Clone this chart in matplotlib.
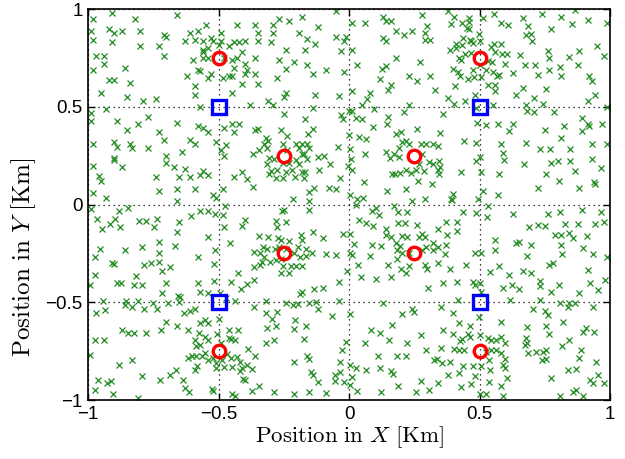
import numpy as np
import matplotlib
matplotlib.use("Agg")
import matplotlib.pyplot as plt

# base stations (red circles) and access points (blue squares)
bs_x = [-0.5, 0.5, -0.25, 0.25, -0.25, 0.25, -0.5, 0.5]
bs_y = [0.75, 0.75, 0.25, 0.25, -0.25, -0.25, -0.75, -0.75]
ap_x = [-0.5, 0.5, -0.5, 0.5]
ap_y = [0.5, 0.5, -0.5, -0.5]

# user positions (green crosses)
users_top_left = [
    (-0.91, 0.98), (-0.66, 0.97), (-0.98, 0.95), (-0.82, 0.95), (-0.55, 0.92), (-0.43, 0.92),
    (-0.36, 0.92), (-0.92, 0.90), (-0.58, 0.89), (-0.99, 0.89), (-0.90, 0.88), (-0.87, 0.89),
    (-0.80, 0.89), (-0.61, 0.88), (-0.49, 0.88), (-0.35, 0.88), (-0.71, 0.87), (-0.70, 0.86),
    (-0.98, 0.84), (-0.91, 0.83), (-0.73, 0.81), (-0.80, 0.81), (-0.63, 0.835), (-0.59, 0.84),
    (-0.56, 0.835), (-0.53, 0.85), (-0.52, 0.835), (-0.49, 0.835), (-0.44, 0.83), (-0.42, 0.83),
    (-0.40, 0.835), (-0.35, 0.835), (-0.56, 0.79), (-0.54, 0.80), (-0.50, 0.815), (-0.46, 0.81),
    (-0.41, 0.78), (-0.97, 0.76), (-0.94, 0.76), (-0.71, 0.76), (-0.60, 0.74), (-0.56, 0.75),
    (-0.54, 0.75), (-0.56, 0.78), (-0.48, 0.75), (-0.45, 0.74), (-0.43, 0.75), (-0.40, 0.72),
    (-0.36, 0.75), (-0.98, 0.69), (-0.94, 0.72), (-0.86, 0.70), (-0.58, 0.69), (-0.57, 0.685),
    (-0.44, 0.70), (-0.39, 0.69), (-0.62, 0.66), (-0.54, 0.65), (-0.53, 0.67), (-0.485, 0.65),
    (-0.46, 0.66), (-0.45, 0.66), (-0.40, 0.67), (-0.36, 0.67), (-0.92, 0.64), (-0.90, 0.64),
    (-0.84, 0.62), (-0.59, 0.605), (-0.41, 0.615), (-0.35, 0.615), (-0.95, 0.57), (-0.85, 0.55),
    (-0.74, 0.54), (-0.79, 0.53), (-0.59, 0.56), (-0.45, 0.57), (-0.93, 0.49), (-0.57, 0.50),
    (-0.38, 0.51), (-0.99, 0.47), (-0.99, 0.43), (-0.77, 0.45), (-0.89, 0.43), (-0.66, 0.42),
    (-0.81, 0.41), (-0.58, 0.40), (-0.56, 0.39), (-0.54, 0.37), (-0.48, 0.39), (-0.44, 0.37),
    (-0.42, 0.41), (-0.45, 0.41), (-0.36, 0.38), (-0.35, 0.385), (-0.85, 0.38), (-0.73, 0.37),
    (-0.98, 0.31), (-0.90, 0.32), (-0.89, 0.295), (-0.84, 0.31), (-0.83, 0.29), (-0.77, 0.29),
    (-0.71, 0.33), (-0.61, 0.33), (-0.59, 0.31), (-0.51, 0.32), (-0.47, 0.305), (-0.49, 0.28),
    (-0.345, 0.28), (-0.70, 0.25), (-0.64, 0.27), (-0.48, 0.25), (-0.37, 0.26), (-0.98, 0.20),
    (-0.90, 0.24), (-0.90, 0.23), (-0.70, 0.215), (-0.87, 0.19), (-0.63, 0.18), (-0.67, 0.19),
    (-0.96, 0.146), (-0.95, 0.12), (-0.74, 0.14), (-0.65, 0.14), (-0.61, 0.14), (-0.56, 0.17),
    (-0.57, 0.15), (-0.54, 0.15), (-0.44, 0.14), (-0.41, 0.165), (-0.39, 0.13), (-0.37, 0.09),
    (-0.73, 0.07), (-0.66, 0.08), (-0.59, 0.08), (-0.485, 0.08), (-0.98, 0.06), (-0.93, 0.035),
    (-0.66, 0.02), (-0.52, 0.05), (-0.51, 0.035),
]

users_top_mid = [
    (-0.05, 0.99), (-0.27, 0.95), (-0.29, 0.92), (-0.23, 0.94), (-0.18, 0.96), (0.01, 0.93),
    (0.06, 0.93), (0.13, 0.96), (0.14, 0.94), (0.16, 0.94), (0.28, 0.97), (0.30, 0.915),
    (-0.29, 0.88), (-0.19, 0.88), (-0.12, 0.91), (-0.05, 0.86), (-0.02, 0.835), (-0.01, 0.86),
    (0.18, 0.89), (0.21, 0.87), (0.24, 0.89), (0.13, 0.85), (0.14, 0.835), (0.29, 0.84),
    (0.31, 0.84), (0.29, 0.88), (-0.30, 0.83), (-0.16, 0.845), (-0.13, 0.82), (-0.24, 0.79),
    (-0.17, 0.79), (-0.03, 0.785), (0.01, 0.79), (0.18, 0.75), (-0.27, 0.74), (-0.21, 0.73),
    (-0.16, 0.715), (-0.24, 0.695), (-0.14, 0.67), (-0.09, 0.69), (-0.02, 0.68), (0.03, 0.715),
    (0.125, 0.695), (0.14, 0.71), (0.27, 0.73), (0.31, 0.66), (0.23, 0.66), (0.26, 0.63),
    (-0.275, 0.65), (0.12, 0.645), (0.16, 0.614), (0.15, 0.587), (0.08, 0.57), (0.07, 0.54),
    (0.05, 0.51), (-0.24, 0.57), (-0.25, 0.55), (-0.31, 0.53), (-0.13, 0.56), (-0.04, 0.555),
    (0.01, 0.58), (0.33, 0.585), (-0.29, 0.51), (-0.14, 0.495), (0.00, 0.48), (0.095, 0.49),
    (0.23, 0.51), (-0.25, 0.465), (-0.17, 0.44), (-0.14, 0.386), (-0.156, 0.36), (-0.03, 0.46),
    (-0.023, 0.44), (0.028, 0.444), (0.05, 0.44), (0.01, 0.478), (0.15, 0.447), (0.145, 0.41),
    (0.21, 0.475), (0.09, 0.396), (0.26, 0.385), (0.00, 0.355), (0.038, 0.347), (0.064, 0.337),
    (0.18, 0.36), (0.20, 0.37), (0.22, 0.328), (-0.32, 0.34), (-0.326, 0.308), (-0.31, 0.325),
    (-0.313, 0.29), (-0.26, 0.38), (-0.237, 0.352), (-0.255, 0.308), (-0.236, 0.277),
    (-0.204, 0.308), (-0.19, 0.29), (-0.179, 0.308), (-0.163, 0.308), (-0.153, 0.29),
    (-0.172, 0.257), (-0.306, 0.24), (-0.287, 0.232), (-0.313, 0.206), (-0.255, 0.213),
    (-0.23, 0.215), (-0.204, 0.226), (-0.179, 0.257), (-0.16, 0.232), (-0.19, 0.206),
    (-0.30, 0.172), (-0.276, 0.175), (-0.243, 0.169), (-0.217, 0.175), (-0.18, 0.165),
    (-0.169, 0.165), (-0.306, 0.155), (-0.28, 0.138), (-0.253, 0.138), (-0.207, 0.141),
    (-0.172, 0.135), (-0.118, 0.243), (-0.096, 0.248), (-0.115, 0.175), (-0.074, 0.209),
    (-0.041, 0.294), (-0.036, 0.138), (0.005, 0.282), (0.007, 0.232), (-0.003, 0.20),
    (0.012, 0.175), (0.06, 0.257), (0.14, 0.27), (0.155, 0.237), (0.172, 0.257), (0.19, 0.291),
    (0.19, 0.243), (0.204, 0.318), (0.23, 0.308), (0.274, 0.308), (0.293, 0.308), (0.321, 0.308),
    (0.278, 0.257), (0.306, 0.22), (0.268, 0.206), (0.321, 0.206), (0.163, 0.158), (0.176, 0.158),
    (0.194, 0.164), (0.219, 0.175), (0.236, 0.164), (0.255, 0.175), (0.287, 0.172), (0.319, 0.104),
    (0.265, 0.121), (0.217, 0.078), (0.146, 0.07), (0.057, 0.118), (-0.134, 0.084), (-0.153, 0.065),
    (-0.077, 0.084), (-0.049, 0.082), (-0.215, 0.027), (-0.153, 0.019), (0.004, 0.05),
    (0.032, 0.027), (0.053, 0.033), (0.242, 0.019), (0.29, 0.027),
]

users_top_right = [
    (0.38, 0.99), (0.404, 0.962), (0.46, 0.957), (0.513, 0.957), (0.556, 0.976), (0.668, 0.957),
    (0.74, 0.976), (0.812, 0.962), (0.864, 0.996), (0.391, 0.923), (0.434, 0.928), (0.459, 0.934),
    (0.583, 0.928), (0.608, 0.917), (0.685, 0.915), (0.855, 0.925), (0.915, 0.946), (0.987, 0.928),
    (0.451, 0.903), (0.459, 0.90), (0.497, 0.872), (0.678, 0.866), (0.698, 0.872), (0.701, 0.835),
    (0.774, 0.90), (0.436, 0.855), (0.462, 0.843), (0.468, 0.838), (0.41, 0.821), (0.433, 0.815),
    (0.474, 0.828), (0.50, 0.835), (0.557, 0.821), (0.583, 0.821), (0.41, 0.801), (0.385, 0.789),
    (0.446, 0.77), (0.423, 0.75), (0.43, 0.741), (0.468, 0.774), (0.545, 0.804), (0.561, 0.781),
    (0.585, 0.77), (0.605, 0.77), (0.656, 0.767), (0.761, 0.784), (0.768, 0.75), (0.88, 0.784),
    (0.949, 0.81), (0.844, 0.753), (0.976, 0.762), (0.532, 0.736), (0.548, 0.73), (0.50, 0.713),
    (0.596, 0.719), (0.676, 0.713), (0.714, 0.713), (0.398, 0.694), (0.417, 0.679), (0.474, 0.69),
    (0.523, 0.687), (0.553, 0.679), (0.576, 0.665), (0.566, 0.66), (0.627, 0.673), (0.768, 0.687),
    (0.809, 0.702), (0.812, 0.656), (0.876, 0.713), (0.723, 0.665), (0.426, 0.656), (0.455, 0.641),
    (0.478, 0.653), (0.506, 0.653), (0.921, 0.656), (0.931, 0.634), (0.532, 0.614), (0.561, 0.614),
    (0.407, 0.605), (0.668, 0.597), (0.755, 0.592), (0.561, 0.58), (0.481, 0.56), (0.638, 0.56),
    (0.944, 0.563), (0.379, 0.543), (0.404, 0.515), (0.446, 0.532), (0.487, 0.495), (0.553, 0.512),
    (0.678, 0.512), (0.681, 0.478), (0.708, 0.543), (0.707, 0.475), (0.745, 0.515), (0.784, 0.475),
    (0.915, 0.532), (0.987, 0.498), (0.36, 0.464), (0.49, 0.418), (0.523, 0.407), (0.57, 0.413),
    (0.612, 0.379), (0.63, 0.41), (0.749, 0.381), (0.825, 0.401), (0.892, 0.444), (0.915, 0.413),
    (0.921, 0.401), (0.968, 0.41), (0.892, 0.379), (0.349, 0.368), (0.439, 0.325), (0.487, 0.317),
    (0.583, 0.308), (0.678, 0.317), (0.812, 0.342), (0.931, 0.308), (0.988, 0.311), (0.34, 0.30),
    (0.589, 0.262), (0.592, 0.228), (0.73, 0.282), (0.77, 0.282), (0.848, 0.286), (0.487, 0.223),
    (0.50, 0.245), (0.672, 0.206), (0.774, 0.214), (0.80, 0.223), (0.847, 0.223), (0.931, 0.231),
    (0.344, 0.223), (0.349, 0.192), (0.34, 0.175), (0.344, 0.155), (0.43, 0.169), (0.506, 0.167),
    (0.576, 0.155), (0.755, 0.158), (0.864, 0.172), (0.966, 0.189), (0.804, 0.121), (0.94, 0.118),
    (0.944, 0.104), (0.883, 0.087), (0.723, 0.084), (0.513, 0.07), (0.57, 0.05), (0.40, 0.053),
    (0.391, 0.027), (0.395, 0.022), (0.493, 0.027),
]

users_bottom_left = [
    (-0.99, -0.02), (-0.966, -0.072), (-0.896, -0.072), (-0.881, -0.032), (-0.847, -0.015),
    (-0.804, -0.083), (-0.779, -0.083), (-0.736, -0.072), (-0.653, -0.089), (-0.605, -0.06),
    (-0.57, -0.032), (-0.541, -0.032), (-0.513, -0.046), (-0.485, -0.055), (-0.475, -0.009),
    (-0.947, -0.123), (-0.915, -0.097), (-0.879, -0.114), (-0.747, -0.114), (-0.66, -0.14),
    (-0.481, -0.114), (-0.539, -0.165), (-0.40, -0.077), (-0.411, -0.111), (-0.347, -0.162),
    (-0.456, -0.196), (-0.73, -0.19), (-0.794, -0.216), (-0.666, -0.213), (-0.953, -0.225),
    (-0.858, -0.233), (-0.975, -0.267), (-0.728, -0.25), (-0.58, -0.267), (-0.513, -0.233),
    (-0.363, -0.242), (-0.341, -0.25), (-0.909, -0.298), (-0.902, -0.304), (-0.784, -0.31),
    (-0.758, -0.301), (-0.728, -0.293), (-0.685, -0.321), (-0.715, -0.338), (-0.516, -0.304),
    (-0.334, -0.293), (-0.341, -0.31), (-0.363, -0.318), (-0.975, -0.361), (-0.817, -0.366),
    (-0.424, -0.352), (-0.89, -0.403), (-0.873, -0.40), (-0.826, -0.412), (-0.794, -0.412),
    (-0.702, -0.403), (-0.58, -0.40), (-0.516, -0.389), (-0.452, -0.395), (-0.392, -0.406),
    (-0.363, -0.386), (-0.992, -0.412), (-0.414, -0.434), (-0.715, -0.454), (-0.656, -0.468),
    (-0.647, -0.471), (-0.57, -0.446), (-0.539, -0.451), (-0.494, -0.451), (-0.943, -0.491),
    (-0.855, -0.491), (-0.807, -0.491), (-0.753, -0.502), (-0.694, -0.502), (-0.653, -0.498),
    (-0.437, -0.491), (-0.363, -0.522), (-0.472, -0.48), (-0.97, -0.553), (-0.937, -0.539),
    (-0.86, -0.514), (-0.832, -0.522), (-0.784, -0.536), (-0.736, -0.534), (-0.634, -0.553),
    (-0.609, -0.542), (-0.59, -0.536), (-0.498, -0.587), (-0.702, -0.602), (-0.66, -0.621),
    (-0.618, -0.641), (-0.57, -0.607), (-0.554, -0.59), (-0.539, -0.604), (-0.87, -0.644),
    (-0.847, -0.658), (-0.826, -0.658), (-0.779, -0.655), (-0.72, -0.644), (-0.975, -0.692),
    (-0.941, -0.692), (-0.577, -0.658), (-0.551, -0.675), (-0.507, -0.661), (-0.462, -0.641),
    (-0.424, -0.641), (-0.539, -0.695), (-0.592, -0.695), (-0.57, -0.718), (-0.587, -0.726),
    (-0.49, -0.709), (-0.462, -0.684), (-0.452, -0.689), (-0.437, -0.692), (-0.388, -0.74),
    (-0.602, -0.777), (-0.618, -0.786), (-0.587, -0.774), (-0.564, -0.777), (-0.541, -0.794),
    (-0.551, -0.76), (-0.52, -0.786), (-0.511, -0.811), (-0.488, -0.794), (-0.481, -0.831),
    (-0.468, -0.763), (-0.452, -0.786), (-0.43, -0.78), (-0.417, -0.808), (-0.392, -0.82),
    (-0.36, -0.774), (-0.992, -0.769), (-0.881, -0.82), (-0.832, -0.794), (-0.794, -0.876),
    (-0.685, -0.871), (-0.664, -0.845), (-0.592, -0.845), (-0.583, -0.828), (-0.511, -0.837),
    (-0.447, -0.831), (-0.411, -0.837), (-0.417, -0.854), (-0.373, -0.842), (-0.962, -0.90),
    (-0.928, -0.913), (-0.911, -0.905), (-0.724, -0.90), (-0.638, -0.896), (-0.408, -0.893),
    (-0.398, -0.90), (-0.347, -0.93), (-0.972, -0.947), (-0.906, -0.967), (-0.809, -0.99),
    (-0.628, -0.938), (-0.615, -0.96), (-0.526, -0.944), (-0.523, -0.955), (-0.447, -0.967),
    (-0.437, -0.981), (-0.373, -0.955),
]

users_bottom_mid = [
    (-0.249, -0.026), (-0.258, -0.032), (-0.153, -0.026), (0.028, -0.004), (0.089, -0.032),
    (0.102, -0.015), (0.115, -0.055), (0.172, -0.009), (0.189, -0.038), (0.223, -0.038),
    (-0.281, -0.083), (-0.24, -0.089), (-0.275, -0.114), (0.038, -0.08), (0.066, -0.094),
    (0.092, -0.111), (0.189, -0.094), (0.214, -0.094), (0.261, -0.106), (0.143, -0.123),
    (-0.309, -0.165), (-0.271, -0.173), (-0.262, -0.182), (-0.185, -0.157), (-0.179, -0.182),
    (-0.138, -0.14), (-0.10, -0.173), (-0.023, -0.151), (0.002, -0.151), (0.143, -0.157),
    (0.159, -0.165), (0.201, -0.16), (0.223, -0.165), (0.268, -0.165), (0.291, -0.165),
    (0.278, -0.151), (0.178, -0.196), (0.194, -0.213), (0.089, -0.208), (0.121, -0.213),
    (0.019, -0.202), (-0.33, -0.216), (-0.313, -0.225), (-0.284, -0.225), (-0.268, -0.216),
    (-0.232, -0.185), (-0.24, -0.225), (-0.211, -0.247), (-0.194, -0.216), (-0.166, -0.225),
    (-0.141, -0.247), (0.002, -0.247), (0.013, -0.258), (0.079, -0.264), (0.185, -0.233),
    (0.185, -0.276), (0.204, -0.25), (0.229, -0.247), (0.278, -0.23), (0.293, -0.216),
    (0.321, -0.233), (0.321, -0.196), (-0.326, -0.267), (-0.304, -0.293), (-0.281, -0.281),
    (-0.262, -0.276), (-0.255, -0.315), (-0.262, -0.352), (-0.23, -0.352), (-0.224, -0.315),
    (-0.204, -0.315), (-0.181, -0.315), (-0.164, -0.264), (-0.189, -0.267), (-0.087, -0.253),
    (-0.049, -0.258), (0.198, -0.327), (0.217, -0.352), (0.229, -0.315), (0.291, -0.31),
    (0.30, -0.327), (0.035, -0.31), (0.15, -0.31), (-0.007, -0.338), (0.044, -0.369),
    (0.104, -0.383), (0.159, -0.372), (-0.039, -0.395), (-0.10, -0.429), (-0.134, -0.434),
    (-0.179, -0.446), (-0.189, -0.457), (0.303, -0.429), (-0.319, -0.491), (-0.243, -0.502),
    (-0.215, -0.514), (-0.194, -0.508), (-0.153, -0.502), (-0.125, -0.497), (-0.039, -0.491),
    (0.13, -0.502), (-0.317, -0.556), (-0.278, -0.548), (-0.294, -0.587), (-0.281, -0.621),
    (-0.313, -0.633), (-0.207, -0.59), (-0.166, -0.621), (-0.211, -0.638), (-0.118, -0.536),
    (-0.064, -0.57), (0.002, -0.559), (0.201, -0.559), (0.242, -0.536), (0.249, -0.548),
    (0.166, -0.616), (0.083, -0.641), (0.117, -0.655), (-0.319, -0.706), (-0.287, -0.695),
    (-0.172, -0.689), (-0.026, -0.743), (-0.013, -0.701), (0.061, -0.706), (0.153, -0.692),
    (0.223, -0.706), (0.274, -0.667), (-0.211, -0.808), (-0.16, -0.774), (-0.153, -0.791),
    (-0.036, -0.803), (0.002, -0.82), (0.112, -0.774), (0.185, -0.774), (0.217, -0.774),
    (0.296, -0.746), (0.325, -0.794), (-0.147, -0.859), (-0.138, -0.871), (-0.054, -0.871),
    (-0.036, -0.859), (0.013, -0.882), (0.025, -0.837), (0.064, -0.845), (0.117, -0.837),
    (0.159, -0.854), (0.168, -0.865), (-0.054, -0.905), (-0.019, -0.91), (-0.118, -0.91),
    (0.002, -0.922), (0.189, -0.93), (0.274, -0.905), (-0.287, -0.961), (-0.211, -0.967),
    (-0.153, -0.961), (-0.09, -0.964), (0.032, -0.956), (0.121, -0.961), (0.258, -0.961),
    (0.306, -0.947),
]

users_bottom_right = [
    (0.436, -0.038), (0.487, -0.043), (0.532, -0.009), (0.528, -0.066), (0.627, -0.046),
    (0.761, -0.049), (0.809, -0.038), (0.893, -0.029), (0.966, -0.038), (0.37, -0.089),
    (0.413, -0.089), (0.34, -0.123), (0.375, -0.157), (0.413, -0.134), (0.691, -0.117),
    (0.723, -0.106), (0.749, -0.111), (0.829, -0.10), (0.876, -0.097), (0.944, -0.10),
    (0.978, -0.089), (0.791, -0.157), (0.812, -0.157), (0.842, -0.145), (0.857, -0.173),
    (0.911, -0.16), (0.561, -0.179), (0.64, -0.199), (0.65, -0.19), (0.698, -0.208),
    (0.812, -0.208), (0.895, -0.221), (0.37, -0.208), (0.34, -0.216), (0.366, -0.253),
    (0.481, -0.25), (0.506, -0.25), (0.561, -0.23), (0.681, -0.264), (0.816, -0.255),
    (0.934, -0.253), (0.987, -0.27), (0.34, -0.301), (0.385, -0.332), (0.449, -0.31),
    (0.541, -0.344), (0.576, -0.315), (0.612, -0.361), (0.668, -0.338), (0.698, -0.349),
    (0.765, -0.31), (0.783, -0.301), (0.915, -0.335), (0.36, -0.40), (0.413, -0.395),
    (0.474, -0.395), (0.502, -0.40), (0.481, -0.412), (0.625, -0.412), (0.589, -0.429),
    (0.653, -0.434), (0.732, -0.389), (0.732, -0.417), (0.774, -0.446), (0.806, -0.412),
    (0.88, -0.454), (0.924, -0.40), (0.953, -0.437), (0.982, -0.386), (0.417, -0.488),
    (0.506, -0.446), (0.615, -0.488), (0.732, -0.488), (0.809, -0.502), (0.844, -0.502),
    (0.864, -0.502), (0.353, -0.525), (0.398, -0.553), (0.497, -0.573), (0.704, -0.536),
    (0.749, -0.542), (0.761, -0.565), (0.838, -0.522), (0.934, -0.525), (0.421, -0.604),
    (0.462, -0.621), (0.583, -0.599), (0.681, -0.624), (0.753, -0.621), (0.821, -0.599),
    (0.36, -0.644), (0.40, -0.661), (0.455, -0.661), (0.462, -0.678), (0.434, -0.689),
    (0.426, -0.70), (0.50, -0.667), (0.532, -0.684), (0.545, -0.692), (0.564, -0.692),
    (0.583, -0.678), (0.596, -0.709), (0.678, -0.684), (0.681, -0.709), (0.768, -0.661),
    (0.842, -0.692), (0.895, -0.65), (0.908, -0.633), (0.94, -0.65), (0.353, -0.735),
    (0.404, -0.74), (0.423, -0.743), (0.442, -0.743), (0.525, -0.752), (0.545, -0.743),
    (0.564, -0.743), (0.583, -0.757), (0.596, -0.791), (0.676, -0.718), (0.685, -0.76),
    (0.717, -0.752), (0.742, -0.752), (0.755, -0.743), (0.816, -0.723), (0.889, -0.743),
    (0.338, -0.791), (0.357, -0.811), (0.385, -0.803), (0.436, -0.825), (0.474, -0.825),
    (0.506, -0.825), (0.538, -0.794), (0.589, -0.82), (0.596, -0.837), (0.74, -0.797),
    (0.755, -0.791), (0.88, -0.786), (0.946, -0.808), (0.379, -0.871), (0.423, -0.862),
    (0.481, -0.876), (0.541, -0.845), (0.605, -0.888), (0.774, -0.888), (0.838, -0.848),
    (0.87, -0.842), (0.924, -0.90), (0.955, -0.871), (0.978, -0.913), (0.34, -0.913),
    (0.43, -0.933), (0.468, -0.916), (0.538, -0.91), (0.583, -0.927), (0.50, -0.967),
    (0.525, -0.967), (0.589, -0.981), (0.809, -0.981), (0.86, -0.961), (0.87, -0.951),
    (0.895, -0.978), (0.934, -0.913),
]

ticks = [-1, -0.5, 0, 0.5, 1]
tick_labels = ['\u22121', '\u22120.5', '0', '0.5', '1']

users = np.array(users_top_left + users_top_mid + users_top_right
                 + users_bottom_left + users_bottom_mid + users_bottom_right)

plt.rcParams['mathtext.fontset'] = 'cm'

fig = plt.figure(figsize=(6.25, 4.59), dpi=100)
ax = fig.add_axes([0.141, 0.1285, 0.835, 0.8515])

ax.plot(users[:, 0], users[:, 1], 'x', color=(0.13, 0.55, 0.13), markersize=4, mew=0.9)
ax.plot(bs_x, bs_y, 'o', color='red', mfc='none', markersize=9, mew=2.4)
ax.plot(ap_x, ap_y, 's', color='blue', mfc='none', markersize=10, mew=2.4)

ax.set_xlim(-1, 1)
ax.set_ylim(-1, 1)
ax.set_xticks(ticks)
ax.set_yticks(ticks)
ax.set_xticklabels(tick_labels)
ax.set_yticklabels(tick_labels)
ax.grid(True, linestyle=(0, (1, 3)), color='black', linewidth=0.9)
ax.tick_params(direction='in', top=True, right=True, length=5, width=1,
               labelsize=13.5, pad=4)
for lab in ax.get_xticklabels() + ax.get_yticklabels():
    lab.set_family('Liberation Sans')
for sp in ax.spines.values():
    sp.set_linewidth(1.2)

ax.set_xlabel(r'$\mathrm{Position\ in\ }X\mathrm{\ [Km]}$', fontsize=16.5, labelpad=1)
ax.set_ylabel(r'$\mathrm{Position\ in\ }Y\mathrm{\ [Km]}$', fontsize=18)
ax.yaxis.set_label_coords(-0.096, 0.365)

fig.savefig('out.png', dpi=100)
